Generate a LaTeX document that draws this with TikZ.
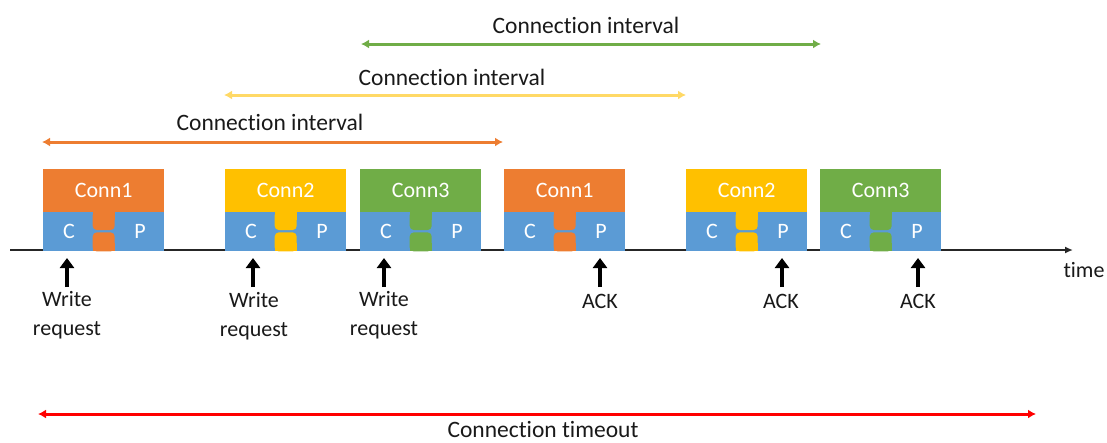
\documentclass[tikz,border=0pt]{standalone}
\usepackage{fontspec}
\setmainfont{Carlito}[Ligatures=NoCommon]
\usetikzlibrary{calc,arrows.meta}

\definecolor{cblue}{HTML}{5B9BD5}
\definecolor{corange}{HTML}{ED7D31}
\definecolor{cyellow}{HTML}{FFC000}
\definecolor{cgreen}{HTML}{70AD47}
\definecolor{lyellow}{HTML}{FFD966}
\definecolor{axisgray}{HTML}{262626}

\tikzset{
  txt/.style={font=\fontsize{22}{29}\selectfont, text=black!90, inner sep=0pt, align=center},
  ltxt/.style={font=\fontsize{23.5}{28}\selectfont, text=black!90, inner sep=0pt},
  wtxt/.style={font=\fontsize{22}{26}\selectfont, text=white, inner sep=0pt},
  head/.style={rectangle, minimum width=121pt, minimum height=43pt, inner sep=0pt, anchor=north west},
  base/.style={rectangle, fill=cblue, minimum width=121pt, minimum height=39pt, inner sep=0pt, anchor=north west},
  event/.style={line width=4.5pt, -{Triangle[width=14pt,length=10pt]}, black},
  span/.style={line width=3pt, {Latex[length=8pt,width=9pt]}-{Latex[length=8pt,width=9pt]}},
}

% one connection event: head with name, base with C and P, linked by a neck
\newcommand\connblock[4]{%
  \node[head, fill=#3] (#1h) at (#2,169) {};
  \node[wtxt] (#1t) at (#1h.center) {#4};
  \node[base] (#1b) at (#2,212) {};
  \node[wtxt] (#1c) at ($(#1b.west)+(26,0)$) {C};
  \node[wtxt] (#1p) at ($(#1b.west)+(97,0)$) {P};
  % upper part of the neck, hanging from the head
  \fill[#3, rounded corners=4pt] ($(#1b.north)+(-11,-1)$) -- ($(#1b.north)+(-11,18)$) -- ($(#1b.north)+(11,18)$) -- ($(#1b.north)+(11,-1)$) -- cycle;
  \fill[#3] ($(#1b.north)+(-11,-1)$) rectangle ($(#1b.north)+(11,8)$);
  % lower part of the neck, standing on the axis
  \fill[#3, rounded corners=4pt] ($(#1b.south)+(-11,0)$) -- ($(#1b.south)+(-11,-19)$) -- ($(#1b.south)+(11,-19)$) -- ($(#1b.south)+(11,0)$) -- cycle;
  \fill[#3] ($(#1b.south)+(-11,0)$) rectangle ($(#1b.south)+(11,-8)$);
}

\begin{document}
\begin{tikzpicture}[x=1pt, y=-1pt]
  \useasboundingbox (0,0) rectangle (1107,442);

  % time axis
  \coordinate (t0) at (10,250);
  \coordinate (t1) at (1073,250);
  \draw[axisgray, line width=1.6pt, -{Latex[length=8pt,width=7pt]}] (t0) -- (t1);
  \node[txt] (time) at (1084,270) {time};

  % connection events
  \connblock{a}{43}{corange}{Conn1}
  \connblock{b}{225}{cyellow}{Conn2}
  \connblock{c}{360}{cgreen}{Conn3}
  \connblock{d}{504}{corange}{Conn1}
  \connblock{e}{686}{cyellow}{Conn2}
  \connblock{f}{820}{cgreen}{Conn3}

  % requests and acknowledgements
  \node[txt] (w1) at (67,315) {Write\\request};
  \node[txt] (w2) at (254,316) {Write\\request};
  \node[txt] (w3) at (384,315) {Write\\request};
  \node[txt] (k1) at (600,301) {ACK};
  \node[txt] (k2) at (781,301) {ACK};
  \node[txt] (k3) at (918,301) {ACK};
  \foreach \n/\x in {w1/67, w2/253, w3/384, k1/600, k2/782, k3/918}
    \draw[event] (\x,287) -- (\x,258);

  % connection intervals
  \coordinate (o0) at (42,142);  \coordinate (o1) at (503,142);
  \coordinate (y0) at (224,95);  \coordinate (y1) at (686,95);
  \coordinate (g0) at (361,44);  \coordinate (g1) at (821,44);
  \draw[span, corange] (o0) -- (o1);
  \draw[span, lyellow] (y0) -- (y1);
  \draw[span, cgreen] (g0) -- (g1);
  \node[ltxt] (oi) at (270,122) {Connection interval};
  \node[ltxt] (yi) at (452,77) {Connection interval};
  \node[ltxt] (gi) at (586,25) {Connection interval};

  % connection timeout
  \coordinate (r0) at (38,414);
  \coordinate (r1) at (1036,414);
  \draw[span, red] (r0) -- (r1);
  \node[ltxt] (to) at (543,429) {Connection timeout};
\end{tikzpicture}
\end{document}
